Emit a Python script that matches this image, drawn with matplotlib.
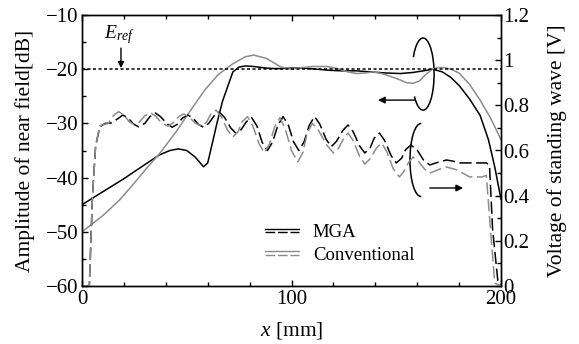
import matplotlib
matplotlib.use("Agg")
import matplotlib.pyplot as plt
from matplotlib.ticker import MultipleLocator, FuncFormatter
from matplotlib.patches import Arc
from matplotlib.lines import Line2D
from matplotlib.legend_handler import HandlerBase

plt.rcParams['font.family'] = ['Liberation Serif', 'DejaVu Serif']
plt.rcParams['mathtext.fontset'] = 'custom'
plt.rcParams['mathtext.rm'] = 'Liberation Serif'
plt.rcParams['mathtext.it'] = 'Liberation Serif:italic'

# ---- near field amplitude [dB] (left axis) ----
mga_field_x = [0, 5, 10, 20, 30, 37, 42, 46, 50, 54, 58, 60, 62, 64.4, 67, 69, 72, 75, 78,
               82, 88, 93, 100, 106, 112, 118, 124, 131, 138, 145, 152, 158, 163, 167.5,
               172, 176, 180, 185, 190, 194, 197, 200]
mga_field_y = [-45, -43.8, -42.6, -40.2, -37.6, -35.8, -35.0, -34.7, -35.0, -36.2, -38.0, -37.3,
               -34.0, -30.0, -26.0, -23.8, -20.5, -19.6, -19.4, -19.5, -19.8, -19.9, -19.8,
               -19.8, -20.0, -20.2, -20.3, -20.3, -20.5, -20.7, -20.8, -20.6, -20.3, -20.0,
               -20.5, -21.5, -23.0, -25.5, -28.5, -33.0, -38.0, -44.0]

conv_field_x = [0, 10, 18, 25, 31, 37, 45, 52, 58.7, 65, 72, 78, 82, 88, 95, 100, 105, 110,
                117, 122, 127, 131, 135, 139, 143, 147, 152, 155, 158, 161, 164, 167.5, 170,
                173, 176, 180, 185, 190, 195, 200]
conv_field_y = [-50, -47, -44.1, -41, -38.2, -35.6, -31.5, -27.5, -23.8, -21, -19, -17.7, -17.4,
                -18, -19.6, -20.0, -19.7, -19.5, -19.5, -19.9, -20.5, -20.8, -20.7, -20.5,
                -20.8, -21.3, -22.0, -22.5, -22.6, -22.2, -21.0, -19.9, -19.7, -19.7, -20.0,
                -20.7, -22.8, -25.7, -29.0, -33.0]

# ---- standing wave voltage [V] (right axis) ----
mga_volt_x = [0, 3.5, 5, 6.5, 8.5, 11, 14, 17, 19.5, 22, 24.5, 27, 30, 32.5, 35, 37.5, 40.5,
              43, 45.5, 48, 50.5, 53, 55.5, 58, 60.5, 63, 65.5, 68, 71, 73.5, 76, 78.5, 81,
              83.5, 86, 88.5, 91, 93.5, 96, 98.5, 101, 103.5, 106, 108.5, 111, 113.5, 116.5,
              119, 121.5, 124.5, 127, 129.5, 132.5, 135, 137.5, 139.5, 142, 144.5, 147.5, 150,
              152.5, 154.5, 157, 160, 163, 166, 170, 174, 177, 180.5, 185, 190, 193, 194.5,
              196, 198.6, 200]
mga_volt_y = [0.0, 0.0, 0.40, 0.62, 0.705, 0.72, 0.722, 0.74, 0.757, 0.744, 0.718, 0.705,
              0.72, 0.751, 0.766, 0.75, 0.719, 0.703, 0.716, 0.744, 0.757, 0.744, 0.716, 0.703,
              0.72, 0.753, 0.77, 0.747, 0.70, 0.676, 0.693, 0.728, 0.745, 0.709, 0.636, 0.60,
              0.638, 0.712, 0.75, 0.712, 0.638, 0.60, 0.638, 0.712, 0.75, 0.717, 0.65, 0.617,
              0.641, 0.689, 0.713, 0.682, 0.62, 0.589, 0.611, 0.655, 0.677, 0.644, 0.578, 0.545,
              0.565, 0.604, 0.624, 0.602, 0.558, 0.536, 0.548, 0.558, 0.553, 0.545, 0.545,
              0.545, 0.545, 0.535, 0.25, 0.013, 0.0]

conv_volt_x = [0, 3.5, 5, 6.5, 8.5, 10.5, 12.5, 15, 17.5, 20, 22.5, 25, 27.5, 30, 32.5, 35, 38,
               41, 43.5, 46, 48.5, 51, 54, 57, 59.5, 61.5, 64, 66.5, 69.5, 72, 74.5, 76.5, 79,
               81.5, 84.5, 87, 89.5, 92, 94.5, 97, 100, 103, 105.5, 107.5, 110, 113, 117, 120,
               122.5, 125, 127, 129.5, 132.5, 135, 137.5, 140.5, 143, 145.5, 148.5, 151.5,
               153.5, 156, 158, 160.5, 163.5, 166, 170, 174, 179, 185, 191, 193, 195, 197, 200]
conv_volt_y = [0.0, 0.0, 0.40, 0.62, 0.71, 0.715, 0.72, 0.755, 0.772, 0.757, 0.728, 0.713,
               0.727, 0.754, 0.768, 0.753, 0.723, 0.708, 0.722, 0.749, 0.762, 0.749, 0.722,
               0.708, 0.726, 0.761, 0.779, 0.749, 0.69, 0.66, 0.683, 0.728, 0.75, 0.71, 0.63,
               0.59, 0.629, 0.706, 0.745, 0.696, 0.599, 0.55, 0.593, 0.678, 0.72, 0.687, 0.622,
               0.589, 0.611, 0.655, 0.677, 0.643, 0.574, 0.54, 0.563, 0.61, 0.633, 0.595, 0.52,
               0.483, 0.505, 0.549, 0.571, 0.553, 0.518, 0.50, 0.515, 0.527, 0.514, 0.483,
               0.483, 0.49, 0.25, 0.013, 0.0]

E_REF = -20
series_labels = ['MGA', 'Conventional']
BLACK = '#000000'
GRAY = '#8c8c8c'
DASH = (0, (8, 3))

fig = plt.figure(figsize=(5.79, 3.44), dpi=100)
ax = fig.add_axes([82/579, 1-286/344, (501-82)/579, (286-15)/344])
ax2 = ax.twinx()

l_mga_s, = ax.plot(mga_field_x, mga_field_y, color=BLACK, lw=1.1)
l_conv_s, = ax.plot(conv_field_x, conv_field_y, color=GRAY, lw=1.1)
ax.axhline(E_REF, color=BLACK, lw=1.1, linestyle=(0, (2, 1.6)))

l_mga_d, = ax2.plot(mga_volt_x, mga_volt_y, color=BLACK, lw=1.1, linestyle=DASH)
l_conv_d, = ax2.plot(conv_volt_x, conv_volt_y, color=GRAY, lw=1.1, linestyle=DASH)

ax.set_xlim(0, 200)
ax.set_ylim(-60, -10)
ax2.set_ylim(0, 1.2)

ax.xaxis.set_major_locator(MultipleLocator(100))
ax.xaxis.set_minor_locator(MultipleLocator(20))
ax.yaxis.set_major_locator(MultipleLocator(10))
ax.yaxis.set_minor_locator(MultipleLocator(5))
ax2.yaxis.set_major_locator(MultipleLocator(0.2))
ax2.yaxis.set_minor_locator(MultipleLocator(0.1))
ax2.yaxis.set_major_formatter(FuncFormatter(lambda v, p: '%g' % round(v, 2)))

ax.tick_params(which='both', direction='in', top=True, right=False, labelsize=15, width=1)
ax.tick_params(which='major', length=4.5)
ax.tick_params(which='minor', length=3)
ax.tick_params(axis='x', pad=3)
ax.tick_params(axis='y', pad=2.5)
ax2.tick_params(which='both', direction='in', labelsize=15, width=1, pad=1.5)
ax2.tick_params(which='major', length=4.5)
ax2.tick_params(which='minor', length=3)
for a in (ax, ax2):
    for s in a.spines.values():
        s.set_linewidth(1.0)

ax.set_ylabel('Amplitude of near field[dB]', fontsize=15.5, labelpad=8)
ax2.set_ylabel('Voltage of standing wave [V]', fontsize=15.5, labelpad=13)
ax.set_xlabel('$x$ [mm]', fontsize=15.5, labelpad=8)

# E_ref annotation
ax.annotate('', xy=(18.6, -19.8), xytext=(18.6, -16.1),
            arrowprops=dict(arrowstyle='-|>', color=BLACK, lw=1, mutation_scale=9,
                            shrinkA=0, shrinkB=0))
ax.text(17.8, -13.6, '$E_{ref}$', fontsize=14, ha='center', va='center')

# ellipse + arrow for near field (left axis)
ax.add_patch(Arc((162.8, -20.9), 10.5, 13.3, theta1=-135, theta2=146, color=BLACK, lw=1.1))
ax.annotate('', xy=(141.3, -25.7), xytext=(159.0, -25.7),
            arrowprops=dict(arrowstyle='-|>', color=BLACK, lw=1, mutation_scale=10,
                            shrinkA=0, shrinkB=0))

# ellipse + arrow for standing wave (right axis)
ax2.add_patch(Arc((161.8, 0.558), 10.5, 0.323, theta1=50, theta2=310, color=BLACK, lw=1.1))
ax2.annotate('', xy=(181.9, 0.434), xytext=(166.0, 0.434),
             arrowprops=dict(arrowstyle='-|>', color=BLACK, lw=1, mutation_scale=10,
                             shrinkA=0, shrinkB=0))


class PairHandler(HandlerBase):
    def create_artists(self, legend, orig_handle, xdescent, ydescent, width, height,
                       fontsize, trans):
        solid, dashed = orig_handle
        yc = height / 2 - ydescent
        off = 1.3
        x0, x1 = -xdescent, width - xdescent
        a = Line2D([x0, x1], [yc + off] * 2, color=solid.get_color(), lw=1.0, transform=trans)
        b = Line2D([x0, x1], [yc - off] * 2, color=dashed.get_color(), lw=1.0,
                   linestyle=(0, (7, 2)), transform=trans)
        return [a, b]


leg = ax.legend([(l_mga_s, l_mga_d), (l_conv_s, l_conv_d)], series_labels,
                handler_map={tuple: PairHandler()}, loc='upper left',
                bbox_to_anchor=((265-82)/419, (286-224)/271), frameon=False,
                fontsize=13.5, handlelength=1.8, handletextpad=0.75, labelspacing=0.28,
                borderpad=0, borderaxespad=0)

fig.savefig('out.png', dpi=100)
